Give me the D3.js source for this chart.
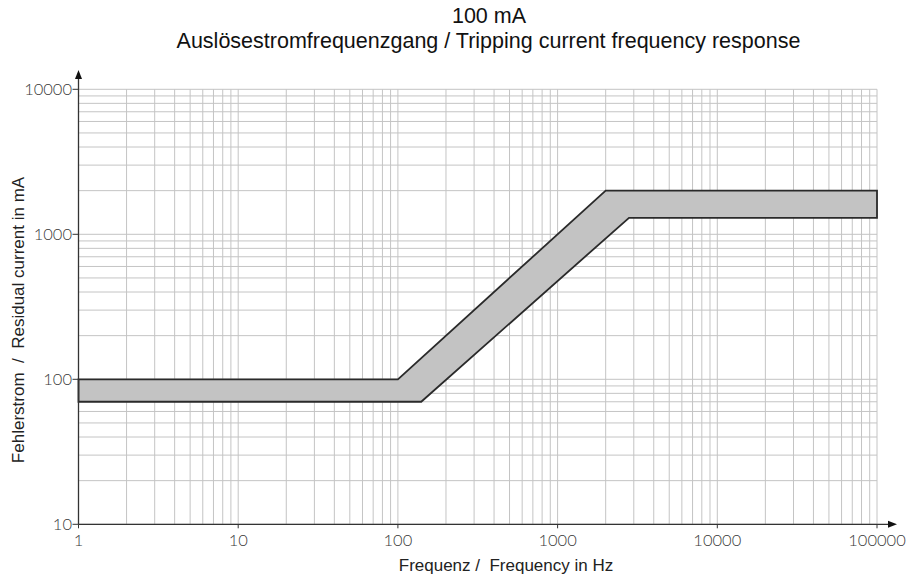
<!DOCTYPE html>
<html>
<head>
<meta charset="utf-8">
<script src="https://cdn.jsdelivr.net/npm/d3@7"></script>
<style>
  body { margin: 0; background: #fff; }
  .tick-label { font-family: "Lato", "DejaVu Sans", sans-serif; font-weight: 300; font-size: 16.5px; fill: #3a3a3a; }
  .title { font-family: "Liberation Sans", Arial, sans-serif; font-size: 21.5px; fill: #111; }
  .axis-title { font-family: "Liberation Sans", Arial, sans-serif; font-size: 17px; fill: #222; }
</style>
</head>
<body>
<div id="chart"></div>
<script>
var width = 907, height = 582;
var margin = {left: 78.5, right: 30, top: 89.3, bottom: 57.7};

// tick labels
var xTicks = [1, 10, 100, 1000, 10000, 100000];
var yTicks = [10, 100, 1000, 10000];

// tolerance band (frequency in Hz, current in mA)
var upperFreq = [1, 100, 2000, 100000];
var upperCurrent = [100, 100, 2000, 2000];
var lowerFreq = [1, 140, 2800, 100000];
var lowerCurrent = [70, 70, 1300, 1300];

var svg = d3.select("#chart")
  .append("svg")
  .attr("width", width)
  .attr("height", height);

var x = d3.scaleLog().domain([1, 100000]).range([margin.left, 877]);
var y = d3.scaleLog().domain([10, 10000]).range([524.3, margin.top]);

// grid lines at 1..9 per decade
var xGrid = [], yGrid = [];
for (var d = 1; d < 100000; d *= 10) {
  for (var k = 1; k <= 9; k++) xGrid.push(d * k);
}
xGrid.push(100000);
for (var d = 10; d < 10000; d *= 10) {
  for (var k = 1; k <= 9; k++) yGrid.push(d * k);
}
yGrid.push(10000);

svg.append("g")
  .selectAll("line")
  .data(xGrid)
  .enter()
  .append("line")
  .attr("x1", d => x(d)).attr("x2", d => x(d))
  .attr("y1", y(10)).attr("y2", y(10000))
  .style("stroke", "#c4c4c4")
  .style("stroke-width", 1);

svg.append("g")
  .selectAll("line")
  .data(yGrid)
  .enter()
  .append("line")
  .attr("x1", x(1)).attr("x2", x(100000))
  .attr("y1", d => y(d)).attr("y2", d => y(d))
  .style("stroke", "#c4c4c4")
  .style("stroke-width", 1);

// band polygon: upper edge left->right, lower edge right->left
var band = [];
upperFreq.forEach((f, i) => band.push([x(f), y(upperCurrent[i])]));
for (var i = lowerFreq.length - 1; i >= 0; i--) band.push([x(lowerFreq[i]), y(lowerCurrent[i])]);

svg.append("path")
  .attr("d", "M" + band.join("L") + "Z")
  .style("fill", "#c3c3c3")
  .style("stroke", "#2a2a2a")
  .style("stroke-width", 1.8)
  .style("stroke-linejoin", "miter");

// axes
var axisColor = "#333";
svg.append("line")
  .attr("x1", x(1)).attr("x2", 890)
  .attr("y1", y(10)).attr("y2", y(10))
  .style("stroke", axisColor).style("stroke-width", 1.3);
svg.append("path")
  .attr("d", "M897," + y(10) + "L888," + (y(10) - 3.5) + "L888," + (y(10) + 3.5) + "Z")
  .style("fill", "#111");

svg.append("line")
  .attr("x1", x(1)).attr("x2", x(1))
  .attr("y1", y(10)).attr("y2", 76)
  .style("stroke", axisColor).style("stroke-width", 1.3);
svg.append("path")
  .attr("d", "M" + x(1) + ",70L" + (x(1) - 3.5) + ",79L" + (x(1) + 3.5) + ",79Z")
  .style("fill", "#111");

// tick marks and labels
svg.append("g")
  .selectAll("line")
  .data(yTicks)
  .enter()
  .append("line")
  .attr("x1", x(1) - 6).attr("x2", x(1))
  .attr("y1", d => y(d)).attr("y2", d => y(d))
  .style("stroke", axisColor);

svg.append("g")
  .selectAll("text")
  .data(yTicks)
  .enter()
  .append("text")
  .attr("class", "tick-label")
  .attr("x", x(1) - 6.5)
  .attr("y", d => y(d) + 6)
  .attr("text-anchor", "end")
  .text(d => d);

svg.append("g")
  .selectAll("line")
  .data(xTicks)
  .enter()
  .append("line")
  .attr("x1", d => x(d)).attr("x2", d => x(d))
  .attr("y1", y(10)).attr("y2", y(10) + 4)
  .style("stroke", axisColor);

svg.append("g")
  .selectAll("text")
  .data(xTicks)
  .enter()
  .append("text")
  .attr("class", "tick-label")
  .attr("x", d => x(d))
  .attr("y", 546)
  .attr("text-anchor", "middle")
  .text(d => d);

// titles
svg.append("text")
  .attr("class", "title")
  .attr("x", 489).attr("y", 23)
  .attr("text-anchor", "middle")
  .text("100 mA");
svg.append("text")
  .attr("class", "title")
  .attr("x", 488.5).attr("y", 48)
  .attr("text-anchor", "middle")
  .text("Auslösestromfrequenzgang / Tripping current frequency response");

svg.append("text")
  .attr("class", "axis-title")
  .attr("x", 506).attr("y", 571)
  .attr("text-anchor", "middle")
  .style("white-space", "pre")
  .text("Frequenz /  Frequency in Hz");

svg.append("text")
  .attr("class", "axis-title")
  .attr("transform", "translate(24,320) rotate(-90)")
  .attr("text-anchor", "middle")
  .style("white-space", "pre")
  .text("Fehlerstrom  /  Residual current in mA");
</script>
</body>
</html>
